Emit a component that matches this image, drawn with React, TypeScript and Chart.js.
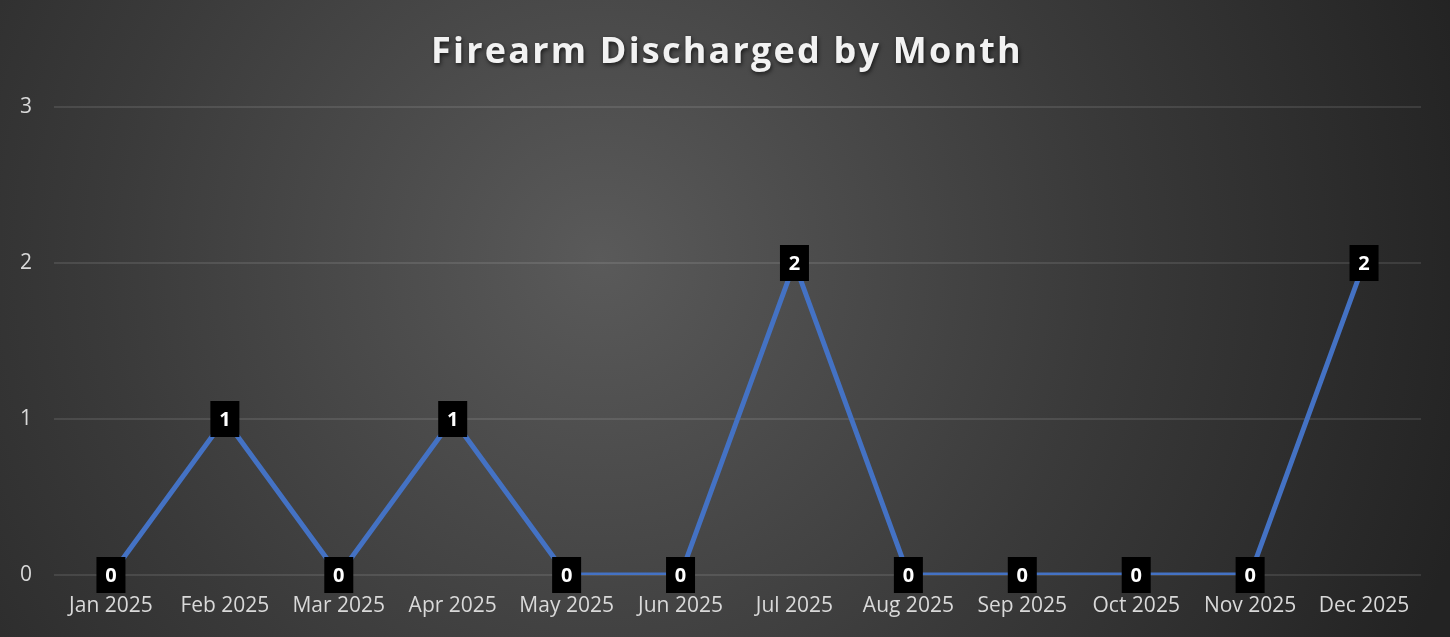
import React, { useEffect, useRef } from "react";
import { Chart, registerables } from "chart.js";

Chart.register(...registerables);

const months = ["Jan 2025", "Feb 2025", "Mar 2025", "Apr 2025", "May 2025", "Jun 2025", "Jul 2025", "Aug 2025", "Sep 2025", "Oct 2025", "Nov 2025", "Dec 2025"];
const discharges = [0, 1, 0, 1, 0, 0, 2, 0, 0, 0, 0, 2];
const yTicks = [0, 1, 2, 3];
const chartTitle = "Firearm Discharged by Month";

const W = 1450;
const H = 637;

const bgPlugin = {
  id: "bgGradient",
  beforeDraw(chart: any) {
    const { ctx } = chart;
    ctx.save();
    const g = ctx.createRadialGradient(600, 260, 0, 600, 260, 900);
    g.addColorStop(0, "#5a5a5a");
    g.addColorStop(0.55, "#3a3a3a");
    g.addColorStop(1, "#232323");
    ctx.fillStyle = g;
    ctx.fillRect(0, 0, chart.width, chart.height);
    ctx.restore();
  },
};

const titlePlugin = {
  id: "customTitle",
  afterDraw(chart: any) {
    const { ctx } = chart;
    ctx.save();
    ctx.font = "bold 36px 'Open Sans'";
    (ctx as any).letterSpacing = "2.2px";
    ctx.textAlign = "center";
    ctx.textBaseline = "middle";
    ctx.shadowColor = "rgba(0,0,0,0.65)";
    ctx.shadowBlur = 4;
    ctx.shadowOffsetX = 1;
    ctx.shadowOffsetY = 2;
    ctx.fillStyle = "#f2f2f2";
    ctx.fillText(chartTitle, 727, 53);
    ctx.restore();
  },
};

const labelPlugin = {
  id: "boxLabels",
  afterDatasetsDraw(chart: any) {
    const { ctx } = chart;
    const meta = chart.getDatasetMeta(0);
    const data = chart.data.datasets[0].data;
    ctx.save();
    ctx.font = "bold 20px 'Open Sans'";
    ctx.textAlign = "center";
    ctx.textBaseline = "middle";
    meta.data.forEach((pt: any, i: number) => {
      const bw = 29;
      const bh = 36;
      ctx.fillStyle = "#000000";
      ctx.fillRect(pt.x - bw / 2, pt.y - bh / 2, bw, bh);
      ctx.fillStyle = "#ffffff";
      ctx.fillText(String(data[i]), pt.x, pt.y + 1);
    });
    ctx.restore();
  },
};

export default function App() {
  const ref = useRef<HTMLCanvasElement>(null);
  useEffect(() => {
    if (!ref.current) return;
    const chart = new Chart(ref.current, {
      type: "line",
      data: {
        labels: months,
        datasets: [
          {
            data: discharges,
            borderColor: "#4472C4",
            borderWidth: 5,
            pointRadius: 0,
            pointHoverRadius: 0,
            tension: 0,
            fill: false,
          },
        ],
      },
      options: {
        animation: false,
        responsive: false,
        maintainAspectRatio: false,
        layout: { padding: { top: 107, right: 29, left: 0, bottom: 0 } },
        plugins: {
          legend: { display: false },
          title: { display: false },
          tooltip: { enabled: false },
        },
        scales: {
          x: {
            offset: true,
            grid: { display: false, drawTicks: false },
            border: { display: false },
            ticks: {
              color: "#d9d9d9",
              font: { family: "'Open Sans'", size: 21 },
              padding: 18,
              maxRotation: 0,
              autoSkip: false,
            },
            afterFit(scale: any) {
              scale.height = 62;
            },
          },
          y: {
            min: 0,
            max: 3,
            afterBuildTicks(scale: any) {
              scale.ticks = yTicks.map((v) => ({ value: v }));
            },
            grid: {
              color: "rgba(255,255,255,0.10)",
              lineWidth: 2,
              drawTicks: false,
            },
            border: { display: false },
            ticks: {
              color: "#d9d9d9",
              font: { family: "'Open Sans'", size: 21 },
              padding: 22,
            },
            afterFit(scale: any) {
              scale.width = 54;
            },
          },
        },
      },
      plugins: [bgPlugin, labelPlugin, titlePlugin],
    });
    return () => chart.destroy();
  }, []);
  return (
    <div style={{ position: "fixed", left: 0, top: 0, width: W, height: H }}>
      <canvas ref={ref} width={W} height={H} style={{ display: "block", width: W, height: H }} />
    </div>
  );
}
